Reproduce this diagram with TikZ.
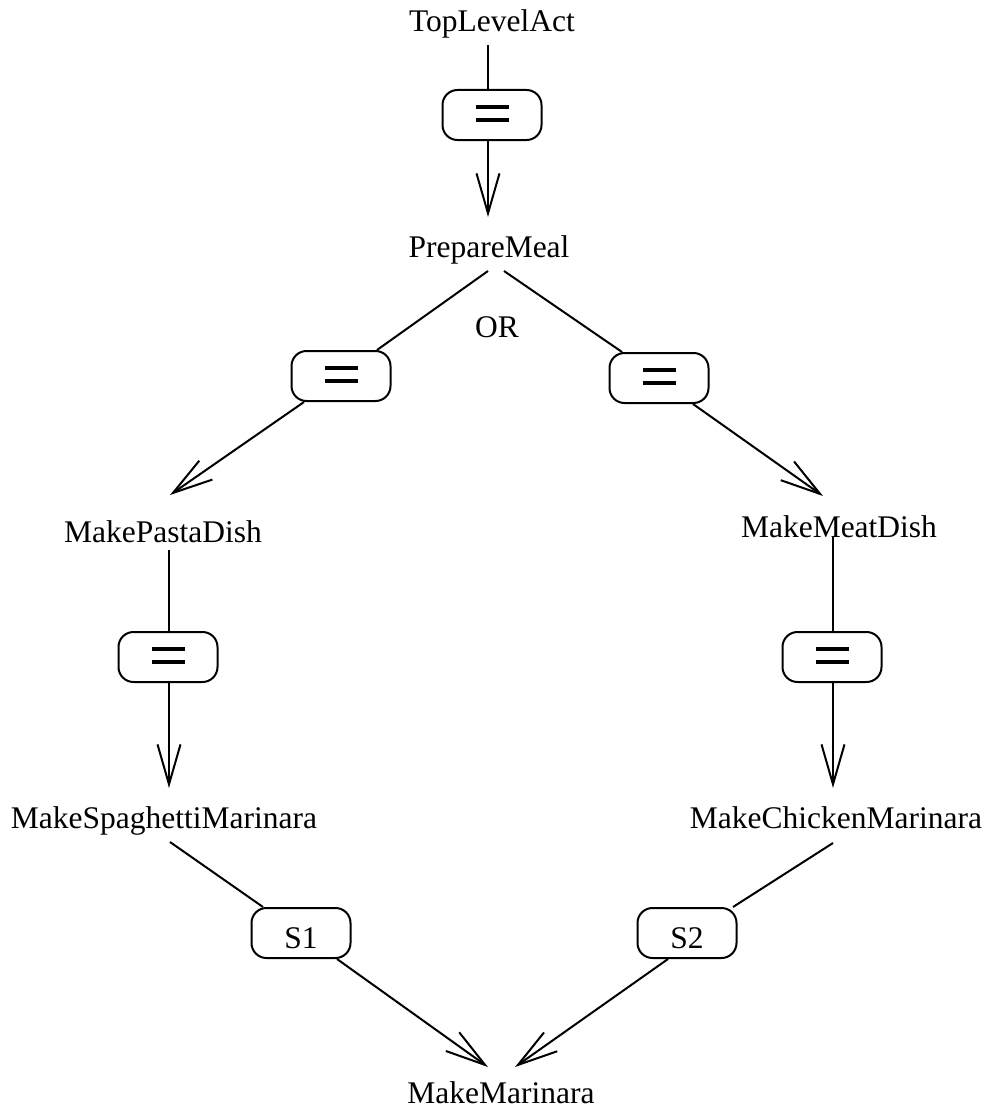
\documentclass[tikz,border=0pt]{standalone}
\usepackage{fontspec}
\setmainfont{Liberation Serif}
\usetikzlibrary{arrows.meta}

\tikzset{
  lbl/.style={inner sep=0pt, anchor=base, font=\fontsize{31.5}{36}\selectfont},
  pill/.style={draw, line width=2pt, rounded corners=15pt,
    minimum width=99pt, minimum height=50pt, inner sep=0pt,
    font=\fontsize{31.5}{36}\selectfont, text height=30pt, text depth=0pt},
  eqbox/.style={pill, path picture={
      \fill[sharp corners] ([xshift=-16.5pt,yshift=6pt]path picture bounding box.center) rectangle ++(33pt,4pt);
      \fill[sharp corners] ([xshift=-16.5pt,yshift=-7pt]path picture bounding box.center) rectangle ++(33pt,4pt);
    }},
  link/.style={line width=2pt},
  arrowlink/.style={line width=2pt, -{Straight Barb[length=40pt,width=23pt]}}
}

\begin{document}
\begin{tikzpicture}[x=1pt,y=-1pt]
  \useasboundingbox (0,0) rectangle (987,1113);

  % activity names
  \node[lbl] (tla) at (492,32) {TopLevelAct};
  \node[lbl] (pm)  at (489,257) {PrepareMeal};
  \node[lbl] (ortag) at (497,337) {OR};
  \node[lbl] (mpd) at (163,542) {MakePastaDish};
  \node[lbl] (mmd) at (839,537) {MakeMeatDish};
  \node[lbl] (msm) at (164,828) {MakeSpaghettiMarinara};
  \node[lbl] (mcm) at (836,828) {MakeChickenMarinara};
  \node[lbl] (mm)  at (501,1103) {MakeMarinara};

  % relation boxes
  \node[eqbox] (b1)  at (492,115) {};
  \node[eqbox] (bl)  at (341,376) {};
  \node[eqbox] (br)  at (659,378) {};
  \node[eqbox] (bvl) at (168,657) {};
  \node[eqbox] (bvr) at (832,657) {};
  \node[pill]  (s1)  at (301,933) {S1};
  \node[pill]  (s2)  at (687,933) {S2};

  % connectors
  \draw[link] ([xshift=-4pt,yshift=-13pt]tla.base) -- ([xshift=-4pt]b1.north);
  \draw[arrowlink] ([xshift=-4pt]b1.south) -- ([xshift=-1pt,yshift=40pt]pm.base);

  \draw[link] ([xshift=-1pt,yshift=-14pt]pm.base) -- ([xshift=36pt]bl.north);
  \draw[arrowlink] ([xshift=-37pt]bl.south) -- ([xshift=7pt,yshift=47pt]mpd.base);

  \draw[link] ([xshift=15pt,yshift=-14pt]pm.base) -- ([xshift=-37pt]br.north);
  \draw[arrowlink] ([xshift=34pt]br.south) -- ([xshift=-16pt,yshift=41pt]mmd.base);

  \draw[link] ([xshift=6pt,yshift=-8pt]mpd.base) -- ([xshift=1pt]bvl.north);
  \draw[arrowlink] ([xshift=1pt]bvl.south) -- ([xshift=5pt,yshift=40pt]msm.base);

  \draw[link] ([xshift=-6pt]mmd.base) -- ([xshift=1pt]bvr.north);
  \draw[arrowlink] ([xshift=1pt]bvr.south) -- ([xshift=-3pt,yshift=40pt]mcm.base);

  \draw[link] ([xshift=6pt,yshift=-14pt]msm.base) -- ([xshift=-38pt]s1.north);
  \draw[arrowlink] ([xshift=36pt]s1.south) -- ([xshift=-13pt,yshift=36pt]mm.base);

  \draw[link] ([xshift=-3pt,yshift=-15pt]mcm.base) -- ([xshift=46pt]s2.north);
  \draw[arrowlink] ([xshift=-19pt]s2.south) -- ([xshift=14pt,yshift=36pt]mm.base);
\end{tikzpicture}
\end{document}
